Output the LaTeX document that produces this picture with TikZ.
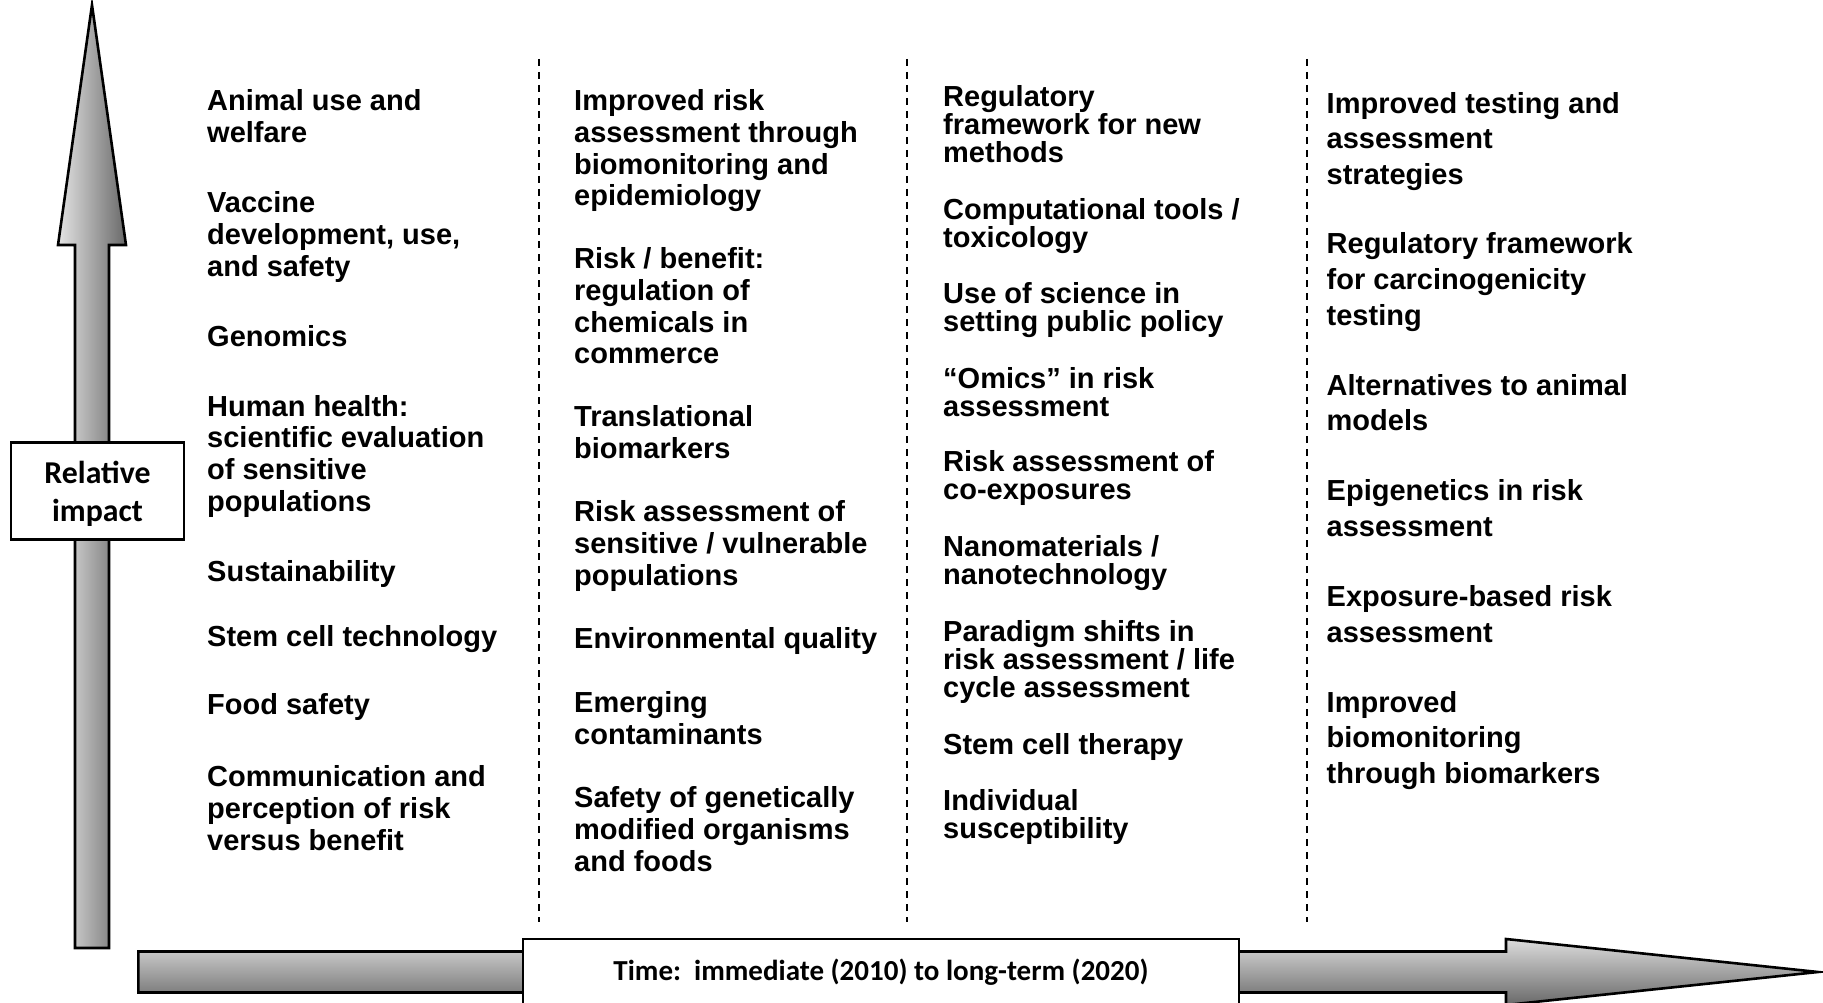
\documentclass[tikz,border=0pt]{standalone}
\usepackage{fontspec}
\setmainfont{Liberation Sans}
\newfontfamily\calibrifont{Carlito}
\usetikzlibrary{shadings}
% left-aligned stack of lines whose baseline is that of the first line
\newcommand\stackl[1]{\vtop{\lineskiplimit=-\maxdimen\halign{##\hfil\cr#1\crcr}}}
\begin{document}
\begin{tikzpicture}[x=1pt,y=-1pt,
  item/.style={anchor=base west, inner sep=0pt,
    font=\bfseries\fontsize{29}{#1}\selectfont},
  divider/.style={line width=2pt, dash pattern=on 6.7pt off 6.3pt},
  labelbox/.style={draw, fill=white, line width=2.5pt, inner sep=0pt,
    font=\calibrifont\bfseries\fontsize{#1}{37.7}\selectfont, align=center},
  bigarrow/.style={draw=black, line width=2.6pt, line join=miter}]
\useasboundingbox (0,0) rectangle (1823,1003);

% vertical axis arrow: relative impact
\path[bigarrow, left color={rgb,255:red,228;green,228;blue,228},
      right color={rgb,255:red,105;green,105;blue,105}]
  (75,948) -- (75,245) -- (58,245) -- (92,5) -- (126,245) -- (109,245)
  -- (109,948) -- cycle;
\node[labelbox=31.8, minimum width=173pt, minimum height=97pt, text depth=0pt]
  (impact) at (97.5,491) {};
\node[anchor=center, inner sep=0pt, font=\calibrifont\bfseries\fontsize{31.8}{37.7}\selectfont,
  align=center] (impacttext) at (97.5,494) {Relative\\impact};

% horizontal axis arrow: time
\path[bigarrow, top color={rgb,255:red,220;green,220;blue,220},
      bottom color={rgb,255:red,105;green,105;blue,105}]
  (138.3,951.5) -- (1506,951.5) -- (1506,939) -- (1818,972) -- (1506,1005)
  -- (1506,992.5) -- (138.3,992.5) -- cycle;
\node[labelbox=29, minimum width=716.3pt, minimum height=66pt] (time) at (881,972)
  {Time:\ \ immediate (2010) to long-term (2020)};

% column dividers
\draw[divider] (539,59) -- (539,922);
\draw[divider] (907,59) -- (907,922);
\draw[divider] (1307,59) -- (1307,922);

% first column
\node[item=31.8] (a1) at (207,110.5) {\stackl{Animal use and\cr welfare}};
\node[item=31.8] (a2) at (207,212.5) {\stackl{Vaccine\cr development, use,\cr and safety}};
\node[item=31.8] (a3) at (207,346.5) {\stackl{Genomics}};
\node[item=31.8] (a4) at (207,416)   {\stackl{Human health:\cr scientific evaluation\cr of sensitive\cr populations}};
\node[item=31.8] (a5) at (207,581)   {\stackl{Sustainability}};
\node[item=31.8] (a6) at (207,646)   {\stackl{Stem cell technology}};
\node[item=31.8] (a7) at (207,714.5) {\stackl{Food safety}};
\node[item=31.8] (a8) at (207,786.5) {\stackl{Communication and\cr perception of risk\cr versus benefit}};

% second column
\node[item=31.8] (b1) at (574,110.5) {\stackl{Improved risk\cr assessment through\cr biomonitoring and\cr epidemiology}};
\node[item=31.8] (b2) at (574,268.5) {\stackl{Risk / benefit:\cr regulation of\cr chemicals in\cr commerce}};
\node[item=31.8] (b3) at (574,426.5) {\stackl{Translational\cr biomarkers}};
\node[item=31.8] (b4) at (574,521.5) {\stackl{Risk assessment of\cr sensitive / vulnerable\cr populations}};
\node[item=31.8] (b5) at (574,648.5) {\stackl{Environmental quality}};
\node[item=31.8] (b6) at (574,712.5) {\stackl{Emerging\cr contaminants}};
\node[item=31.8] (b7) at (574,807.5) {\stackl{Safety of genetically\cr modified organisms\cr and foods}};

% third column
\node[item=28] (c1) at (943,106.5) {\stackl{Regulatory\cr framework for new\cr methods}};
\node[item=28] (c2) at (943,219.5) {\stackl{Computational tools /\cr toxicology}};
\node[item=28] (c3) at (943,303)   {\stackl{Use of science in\cr setting public policy}};
\node[item=28] (c4) at (943,388)   {\stackl{“Omics” in risk\cr assessment}};
\node[item=28] (c5) at (943,471.5) {\stackl{Risk assessment of\cr co-exposures}};
\node[item=28] (c6) at (943,556.5) {\stackl{Nanomaterials /\cr nanotechnology}};
\node[item=28] (c7) at (943,641.5) {\stackl{Paradigm shifts in\cr risk assessment / life\cr cycle assessment}};
\node[item=28] (c8) at (943,754)   {\stackl{Stem cell therapy}};
\node[item=28] (c9) at (943,810)   {\stackl{Individual\cr susceptibility}};

% fourth column
\node[item=35.5] (d1) at (1326.5,113.5) {\stackl{Improved testing and\cr assessment\cr strategies}};
\node[item=35.5] (d2) at (1326.5,254)   {\stackl{Regulatory framework\cr for carcinogenicity\cr testing}};
\node[item=35.5] (d3) at (1326.5,395)   {\stackl{Alternatives to animal\cr models}};
\node[item=35.5] (d4) at (1326.5,500.5) {\stackl{Epigenetics in risk\cr assessment}};
\node[item=35.5] (d5) at (1326.5,606.5) {\stackl{Exposure-based risk\cr assessment}};
\node[item=35.5] (d6) at (1326.5,712)   {\stackl{Improved\cr biomonitoring\cr through biomarkers}};
\end{tikzpicture}
\end{document}
